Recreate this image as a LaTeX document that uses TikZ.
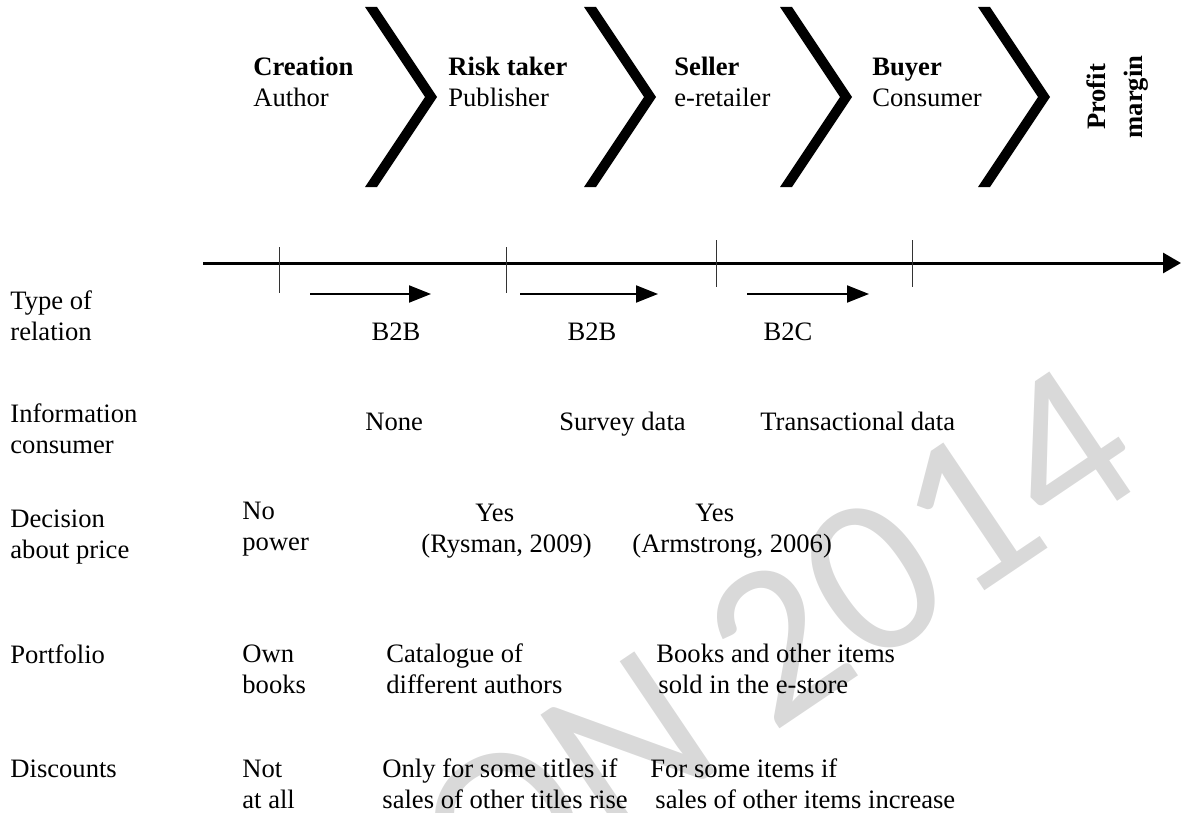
\documentclass[tikz,border=0pt]{standalone}
\usepackage{fontspec}
\setmainfont{Liberation Serif}
\newfontfamily\markfont{Carlito}
\usepackage{xcolor}
\usetikzlibrary{arrows.meta}

\begin{document}
\begin{tikzpicture}[x=0.5pt,y=-0.5pt,every node/.style={font=\fontsize{13.3}{15.5}\selectfont,align=left,inner sep=0pt,anchor=base west},chev/.style={fill=black},tick/.style={draw=black!80,line width=0.5pt},axis/.style={-{Triangle[length=9pt,width=10pt]},line width=1.5pt},rel/.style={-{Triangle[length=11pt,width=8.5pt]},line width=1pt}]
\useasboundingbox (0,0) rectangle (1183,813);
\begin{scope}
\clip (0,0) rectangle (1183,813);
\node[font=\markfont\fontsize{113}{113}\selectfont,text=black!15,rotate=34,anchor=base east] (wm) at (1152,478) {VERSION 2014};
\end{scope}

\foreach \x in {365,584,780,978}
  \fill[chev] (\x,7) -- ++(12,0) -- ++(60,90) -- ++(-60,90) -- ++(-12,0) -- ++(60,-90) -- cycle;

\node (n0) at (253,107) {\textbf{Creation}\\Author};
\node (n1) at (448,107) {\textbf{Risk taker}\\Publisher};
\node (n2) at (674,107) {\textbf{Seller}\\e-retailer};
\node (n3) at (872,107) {\textbf{Buyer}\\Consumer};
\node[rotate=90,align=center,anchor=center,font=\fontsize{13.3}{18.5}\selectfont] (n4) at (1118,97) {\textbf{Profit}\\\textbf{margin}};

\coordinate (a0) at (203,263);
\coordinate (a1) at (1181,263);
\draw[axis] (a0) -- (a1);
\foreach \x in {279,506}
  \draw[tick] (\x,247) -- (\x,293);
\foreach \x in {716,912}
  \draw[tick] (\x,240) -- (\x,287);

\coordinate (s0) at (310,294);
\coordinate (e0) at (431,294);
\coordinate (s1) at (520,294);
\coordinate (e1) at (658,294);
\coordinate (s2) at (747,294);
\coordinate (e2) at (869,294);
\draw[rel] (s0) -- (e0);
\draw[rel] (s1) -- (e1);
\draw[rel] (s2) -- (e2);
\node[anchor=base] (b0) at (396,340) {B2B};
\node[anchor=base] (b1) at (592,340) {B2B};
\node[anchor=base] (b2) at (788,340) {B2C};

\node (r0) at (10,340) {Type of\\relation};
\node (r1) at (10,453) {Information\\consumer};
\node (r2) at (10,558) {Decision\\about price};
\node (r3) at (10,663) {Portfolio};
\node (r4) at (10,777) {Discounts};

\node (c10) at (365,430) {None};
\node (c11) at (559,430) {Survey data};
\node (c12) at (760,430) {Transactional data};

\node (c20) at (242,550) {No\\power};
\node (c21) at (421,552) {\hspace*{27pt}Yes\\(Rysman, 2009)};
\node (c22) at (632,552) {\hspace*{31.5pt}Yes\\(Armstrong, 2006)};

\node (c30) at (242,693) {Own\\books};
\node (c31) at (386,693) {Catalogue of\\different authors};
\node (c32) at (656,693) {Books and other items\\\hspace*{1pt}sold in the e-store};

\node (c40) at (242,808) {Not\\at all};
\node (c41) at (382,808) {Only for some titles if\\sales of other titles rise};
\node (c42) at (650,808) {For some items if\\\hspace*{2.5pt}sales of other items increase};
\end{tikzpicture}
\end{document}
